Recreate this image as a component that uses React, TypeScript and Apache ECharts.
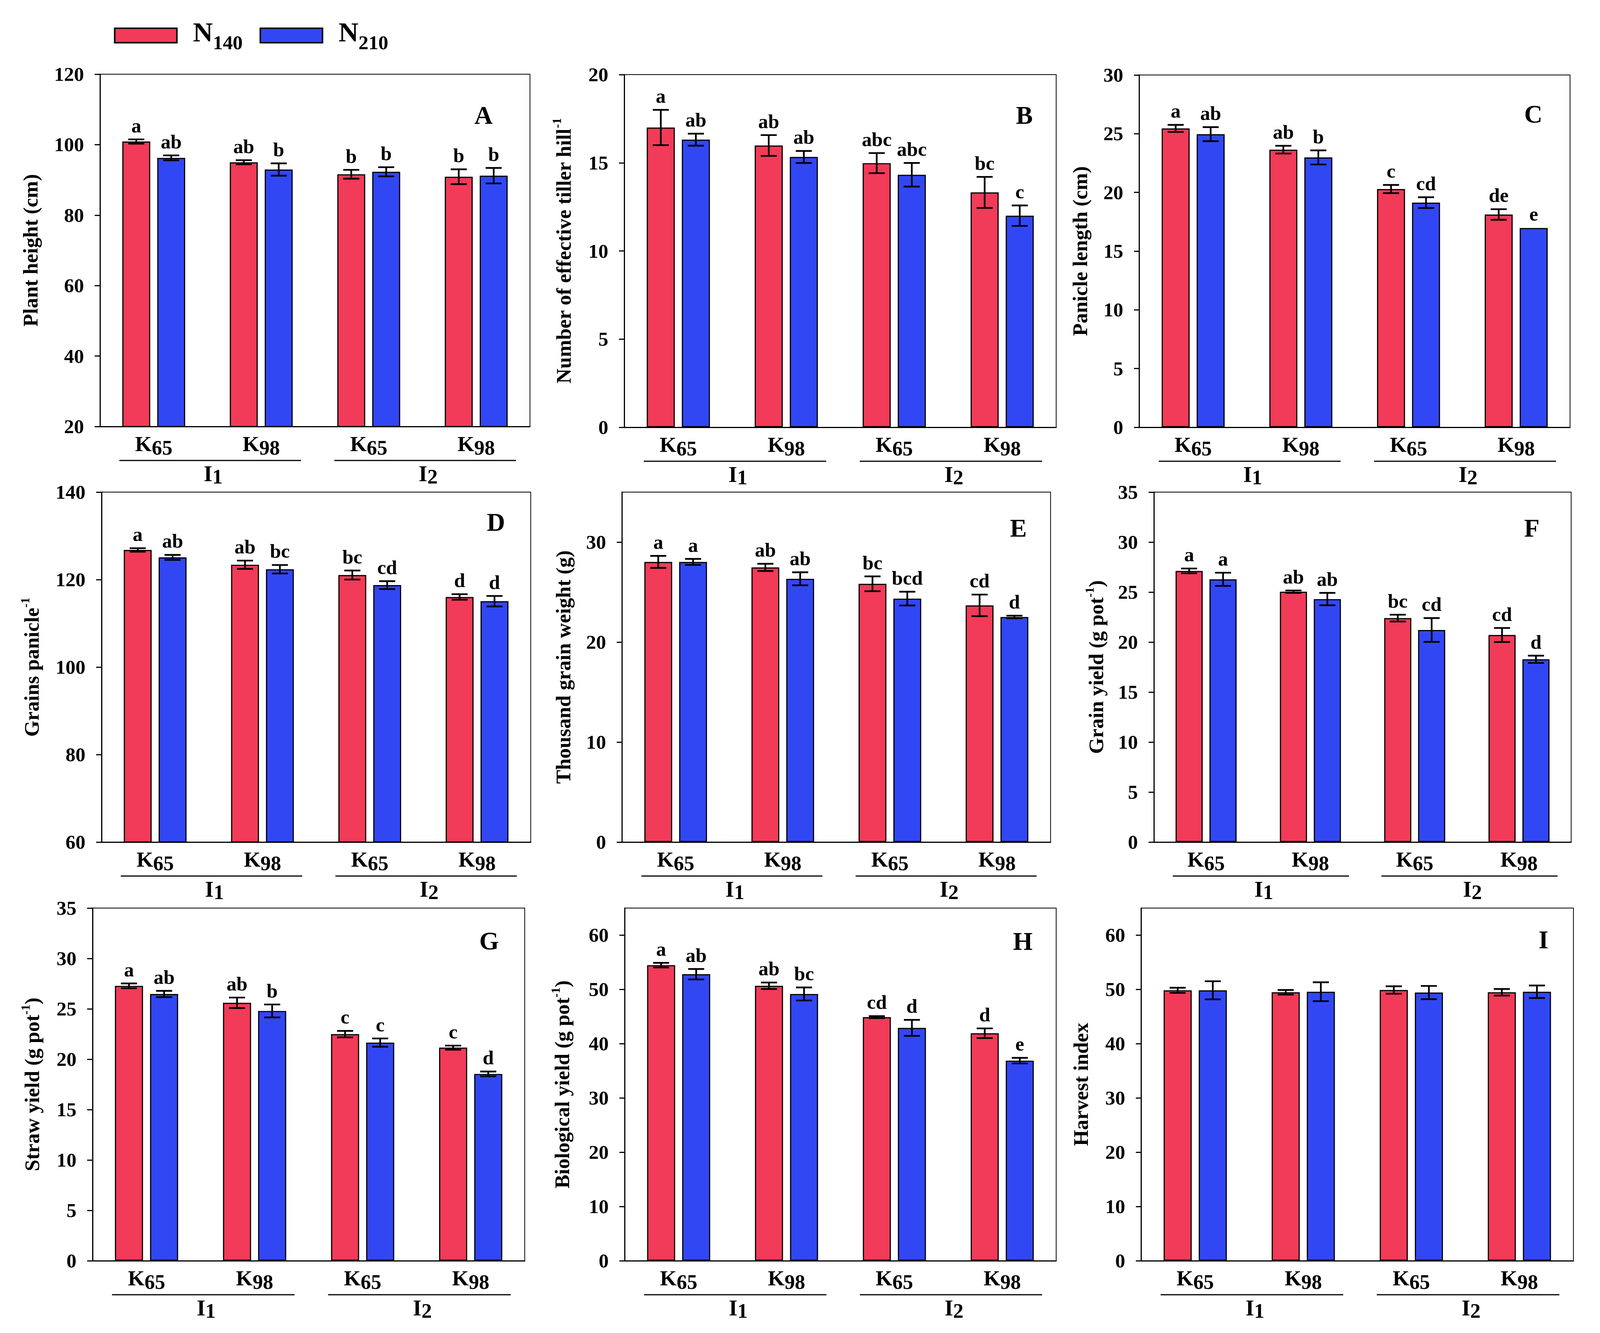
import React, { useEffect, useRef } from 'react';
import * as echarts from 'echarts';

const FONT = "'Liberation Serif', 'Times New Roman', serif";
const RED = '#F23B58';
const BLUE = '#3247F4';
const REF_W = 4272;
const REF_H = 3413;

// ---------- categories / labels ----------
const categoryKeys = ['I1-K65', 'I1-K98', 'I2-K65', 'I2-K98'];
const kLevels = ['K65', 'K98', 'K65', 'K98'];
const irrigationLevels = ['I1', 'I2'];
const nitrogenLevels = ['N140', 'N210'];
const panelLetters = ['A', 'B', 'C', 'D', 'E', 'F', 'G', 'H', 'I'];

// y-axis title parts: [normal, superscript, normal]
const yTitles = [
  ['Plant height (cm)', '', ''],
  ['Number of effective tiller hill', '-1', ''],
  ['Panicle length (cm)', '', ''],
  ['Grains panicle', '-1', ''],
  ['Thousand grain weight (g)', '', ''],
  ['Grain yield (g pot', '-1', ')'],
  ['Straw yield (g pot', '-1', ')'],
  ['Biological yield (g pot', '-1', ')'],
  ['Harvest index', '', ''],
];

// y axis ranges: [min, max, interval, showMaxLabel]
const yRanges: [number, number, number, boolean][] = [
  [20, 120, 20, true],
  [0, 20, 5, true],
  [0, 30, 5, true],
  [60, 140, 20, true],
  [0, 35, 10, false],
  [0, 35, 5, true],
  [0, 35, 5, true],
  [0, 65, 10, false],
  [0, 65, 10, false],
];

// ---------- data ----------
// A Plant height
const heightN140 = [100.9, 95.0, 91.6, 90.9];
const heightN140Err = [0.6, 0.6, 1.25, 2.1];
const heightN210 = [96.25, 92.95, 92.3, 91.2];
const heightN210Err = [0.7, 1.75, 1.3, 2.2];
const heightN140Sig = ['a', 'ab', 'b', 'b'];
const heightN210Sig = ['ab', 'b', 'b', 'b'];

// B Effective tillers
const tillerN140 = [17.0, 15.98, 14.98, 13.32];
const tillerN140Err = [1.0, 0.59, 0.57, 0.88];
const tillerN210 = [16.31, 15.33, 14.32, 12.0];
const tillerN210Err = [0.34, 0.34, 0.67, 0.58];
const tillerN140Sig = ['a', 'ab', 'abc', 'bc'];
const tillerN210Sig = ['ab', 'ab', 'abc', 'c'];

// C Panicle length
const panicleN140 = [25.45, 23.64, 20.29, 18.12];
const panicleN140Err = [0.3, 0.33, 0.35, 0.45];
const panicleN210 = [24.96, 22.98, 19.13, 16.97];
const panicleN210Err = [0.6, 0.6, 0.46, 0];
const panicleN140Sig = ['a', 'ab', 'c', 'de'];
const panicleN210Sig = ['ab', 'b', 'cd', 'e'];

// D Grains per panicle
const grainsN140 = [126.78, 123.4, 121.04, 116.03];
const grainsN140Err = [0.4, 0.94, 1.03, 0.63];
const grainsN210 = [125.08, 122.37, 118.74, 115.06];
const grainsN210Err = [0.57, 0.97, 0.9, 1.2];
const grainsN140Sig = ['a', 'ab', 'bc', 'd'];
const grainsN210Sig = ['ab', 'bc', 'cd', 'd'];

// E Thousand grain weight
const tgwN140 = [28.02, 27.47, 25.83, 23.67];
const tgwN140Err = [0.6, 0.36, 0.74, 1.08];
const tgwN210 = [28.02, 26.33, 24.35, 22.51];
const tgwN210Err = [0.3, 0.65, 0.69, 0.13];
const tgwN140Sig = ['a', 'ab', 'bc', 'cd'];
const tgwN210Sig = ['a', 'ab', 'bcd', 'd'];

// F Grain yield
const grainYieldN140 = [27.12, 25.04, 22.4, 20.71];
const grainYieldN140Err = [0.24, 0.12, 0.34, 0.7];
const grainYieldN210 = [26.28, 24.3, 21.21, 18.28];
const grainYieldN210Err = [0.66, 0.62, 1.19, 0.36];
const grainYieldN140Sig = ['a', 'ab', 'bc', 'cd'];
const grainYieldN210Sig = ['a', 'ab', 'cd', 'd'];

// G Straw yield
const strawN140 = [27.28, 25.6, 22.49, 21.15];
const strawN140Err = [0.24, 0.52, 0.32, 0.2];
const strawN210 = [26.47, 24.79, 21.65, 18.54];
const strawN210Err = [0.31, 0.64, 0.41, 0.24];
const strawN140Sig = ['a', 'ab', 'c', 'c'];
const strawN210Sig = ['ab', 'b', 'c', 'd'];

// H Biological yield
const bioN140 = [54.48, 50.68, 44.9, 41.93];
const bioN140Err = [0.42, 0.6, 0.18, 0.89];
const bioN210 = [52.81, 49.17, 42.92, 36.88];
const bioN210Err = [0.96, 1.2, 1.48, 0.52];
const bioN140Sig = ['a', 'ab', 'cd', 'd'];
const bioN210Sig = ['ab', 'bc', 'd', 'e'];

// I Harvest index
const hiN140 = [49.84, 49.48, 49.9, 49.48];
const hiN140Err = [0.47, 0.42, 0.68, 0.6];
const hiN210 = [49.84, 49.58, 49.43, 49.58];
const hiN210Err = [1.67, 1.74, 1.22, 1.15];
const hiN140Sig = ['', '', '', ''];
const hiN210Sig = ['', '', '', ''];

const panelData = [
  [heightN140, heightN140Err, heightN140Sig, heightN210, heightN210Err, heightN210Sig],
  [tillerN140, tillerN140Err, tillerN140Sig, tillerN210, tillerN210Err, tillerN210Sig],
  [panicleN140, panicleN140Err, panicleN140Sig, panicleN210, panicleN210Err, panicleN210Sig],
  [grainsN140, grainsN140Err, grainsN140Sig, grainsN210, grainsN210Err, grainsN210Sig],
  [tgwN140, tgwN140Err, tgwN140Sig, tgwN210, tgwN210Err, tgwN210Sig],
  [grainYieldN140, grainYieldN140Err, grainYieldN140Sig, grainYieldN210, grainYieldN210Err, grainYieldN210Sig],
  [strawN140, strawN140Err, strawN140Sig, strawN210, strawN210Err, strawN210Sig],
  [bioN140, bioN140Err, bioN140Sig, bioN210, bioN210Err, bioN210Sig],
  [hiN140, hiN140Err, hiN140Sig, hiN210, hiN210Err, hiN210Sig],
];

// ---------- layout (reference pixels, scaled to the viewport) ----------
const panelLayout = [
  { left: 267, top: 190, width: 1148, height: 902, titleX: 81, ldx: 124, ldy: 105 },
  { left: 1667, top: 191, width: 1153, height: 903, titleX: 1505, ldx: 85, ldy: 104 },
  { left: 3042, top: 192, width: 1150, height: 902, titleX: 2884, ldx: 98, ldy: 100 },
  { left: 271, top: 1260, width: 1146, height: 896, titleX: 85, ldx: 93, ldy: 77 },
  { left: 1661, top: 1260, width: 1144, height: 896, titleX: 1504, ldx: 86, ldy: 92 },
  { left: 3081, top: 1260, width: 1114, height: 896, titleX: 2927, ldx: 105, ldy: 92 },
  { left: 247, top: 2325, width: 1154, height: 903, titleX: 86, ldx: 95, ldy: 84 },
  { left: 1668, top: 2325, width: 1152, height: 903, titleX: 1501, ldx: 89, ldy: 85 },
  { left: 3047, top: 2325, width: 1154, height: 903, titleX: 2886, ldx: 80, ldy: 81 },
];

const bold = { fontFamily: FONT, fontWeight: 'bold' as const };

function makeErrorRender(sign: number, letters: string[], s: number) {
  return (params: any, api: any) => {
    const j = api.value(0);
    const v = api.value(1);
    const e = api.value(2);
    const band = api.size([1, 0])[0];
    const x = api.coord([j, v])[0] + sign * band * 0.1625;
    const yTop = api.coord([j, v + e])[1];
    const yBot = api.coord([j, v - e])[1];
    const cap = 21 * s;
    const ls = { stroke: '#000', lineWidth: 4.5 * s };
    const children: any[] = [];
    if (e > 0) {
      children.push({ type: 'line', shape: { x1: x, y1: yTop, x2: x, y2: yBot }, style: ls });
      children.push({ type: 'line', shape: { x1: x - cap, y1: yTop, x2: x + cap, y2: yTop }, style: ls });
      children.push({ type: 'line', shape: { x1: x - cap, y1: yBot, x2: x + cap, y2: yBot }, style: ls });
    }
    const letter = letters[params.dataIndex];
    if (letter) {
      children.push({
        type: 'text',
        style: {
          text: letter, x, y: yTop - 10 * s, align: 'center', verticalAlign: 'bottom',
          fontSize: 52 * s, fontFamily: FONT, fontWeight: 'bold', fill: '#000',
        },
      });
    }
    return { type: 'group', children };
  };
}

function buildOption(W: number, H: number) {
  const sx = W / REF_W;
  const sy = H / REF_H;
  const s = Math.sqrt(sx * sy);
  const X = (v: number) => v * sx;
  const Y = (v: number) => v * sy;
  const S = (v: number) => v * s;

  const grid: any[] = [];
  const xAxis: any[] = [];
  const yAxis: any[] = [];
  const graphic: any[] = [];
  const bars: any[] = [];
  const errs: any[] = [];

  panelLayout.forEach((L, i) => {
    const [v1, e1, s1, v2, e2, s2] = panelData[i] as any[];
    const [mn, mx, itv, showMax] = yRanges[i];
    const gl = X(L.left), gt = Y(L.top), gw = X(L.width), gh = Y(L.height);
    grid.push({ left: gl, top: gt, width: gw, height: gh, show: true, borderColor: '#000', borderWidth: S(2) });
    xAxis.push({
      type: 'category', gridIndex: i, data: categoryKeys,
      axisLine: { lineStyle: { color: '#000', width: S(3) } },
      axisTick: { show: false },
      axisLabel: {
        interval: 0, margin: S(9),
        formatter: (_v: string, idx: number) => `{k|${kLevels[idx].slice(0, 1)}}{s|${kLevels[idx].slice(1)}}`,
        rich: {
          k: { ...bold, fontSize: S(56), color: '#000' },
          s: { ...bold, fontSize: S(54), color: '#000', padding: [S(19), 0, 0, 0] },
        },
      },
      splitLine: { show: false },
    });
    yAxis.push({
      type: 'value', gridIndex: i, min: mn, max: mx, interval: itv,
      axisLine: { show: true, lineStyle: { color: '#000', width: S(3) } },
      axisTick: { show: true, length: S(14), lineStyle: { color: '#000', width: S(3) } },
      axisLabel: { margin: S(42), fontSize: S(52), ...bold, color: '#000', showMaxLabel: showMax, showMinLabel: true },
      splitLine: { show: false },
    });
    bars.push({
      type: 'bar', name: nitrogenLevels[0], xAxisIndex: i, yAxisIndex: i, data: v1,
      barWidth: '26%', barGap: '25%',
      itemStyle: { color: RED, borderColor: '#000', borderWidth: S(3) },
      emphasis: { disabled: true }, z: 2,
    });
    bars.push({
      type: 'bar', name: nitrogenLevels[1], xAxisIndex: i, yAxisIndex: i, data: v2,
      barWidth: '26%', barGap: '25%',
      itemStyle: { color: BLUE, borderColor: '#000', borderWidth: S(3) },
      emphasis: { disabled: true }, z: 2,
    });
    errs.push({
      type: 'custom', xAxisIndex: i, yAxisIndex: i, silent: true, clip: false, z: 5,
      data: v1.map((v: number, j: number) => [j, v, e1[j]]),
      renderItem: makeErrorRender(-1, s1, s),
    });
    errs.push({
      type: 'custom', xAxisIndex: i, yAxisIndex: i, silent: true, clip: false, z: 5,
      data: v2.map((v: number, j: number) => [j, v, e2[j]]),
      renderItem: makeErrorRender(1, s2, s),
    });

    // y-axis title
    const [t1, sup, t2] = yTitles[i];
    let txt = `{t|${t1}}`;
    if (sup) txt += `{u|${sup}}`;
    if (t2) txt += `{t|${t2}}`;
    graphic.push({
      type: 'text', x: X(L.titleX), y: gt + gh / 2, rotation: Math.PI / 2, z: 10,
      style: {
        text: txt, align: 'center', verticalAlign: 'middle', fill: '#000',
        rich: {
          t: { ...bold, fontSize: S(54), fill: '#000' },
          u: { ...bold, fontSize: S(32), fill: '#000', padding: [0, 0, S(35), 0] },
        },
      },
    });

    // panel letter
    graphic.push({
      type: 'text', x: X(L.left + L.width - L.ldx), y: Y(L.top + L.ldy), z: 10,
      style: { text: panelLetters[i], align: 'center', verticalAlign: 'middle', fontSize: S(66), ...bold, fill: '#000' },
    });

    // irrigation group lines + labels
    const band = gw / categoryKeys.length;
    const base = gt + gh;
    irrigationLevels.forEach((g, gi) => {
      const c0 = gl + band * (2 * gi + 0.5);
      const c1 = gl + band * (2 * gi + 1.5);
      const x1 = c0 - 0.32 * band;
      const x2 = c1 + 0.37 * band;
      graphic.push({
        type: 'line', z: 10,
        shape: { x1, y1: base + Y(87), x2, y2: base + Y(87) },
        style: { stroke: '#000', lineWidth: S(3) },
      });
      graphic.push({
        type: 'text', x: (x1 + x2) / 2 + X(8), y: base + Y(120), z: 10,
        style: {
          text: `{i|${g.slice(0, 1)}}{s|${g.slice(1)}}`, align: 'center', verticalAlign: 'middle', fill: '#000',
          rich: {
            i: { ...bold, fontSize: S(58), fill: '#000' },
            s: { ...bold, fontSize: S(54), fill: '#000', padding: [S(16), 0, 0, 0] },
          },
        },
      });
    });
  });

  return {
    animation: false,
    backgroundColor: '#fff',
    legend: {
      data: nitrogenLevels, left: X(299), top: Y(68) - S(27), itemWidth: X(166), itemHeight: Y(37), itemGap: X(45),
      icon: 'rect', selectedMode: false,
      itemStyle: { borderColor: '#000', borderWidth: S(4) },
      formatter: (name: string) => `{n|${name.slice(0, 1)}}{s|${name.slice(1)}}`,
      textStyle: {
        rich: {
          n: { ...bold, fontSize: S(72), color: '#000', padding: [0, 0, S(18), S(37)] },
          s: { ...bold, fontSize: S(52), color: '#000', padding: [S(38), 0, 0, 0] },
        },
      },
    },
    grid, xAxis, yAxis, series: [...bars, ...errs], graphic,
  };
}

export default function App() {
  const ref = useRef<HTMLDivElement>(null);
  useEffect(() => {
    document.body.style.margin = '0';
    document.body.style.overflow = 'hidden';
    const el = ref.current;
    if (!el) return;
    const W = el.clientWidth || REF_W;
    const H = el.clientHeight || REF_H;
    const chart = echarts.init(el, undefined, { renderer: 'svg', width: W, height: H });
    chart.setOption(buildOption(W, H) as any);
    return () => chart.dispose();
  }, []);
  return <div ref={ref} style={{ width: '100vw', height: '100vh' }} />;
}
